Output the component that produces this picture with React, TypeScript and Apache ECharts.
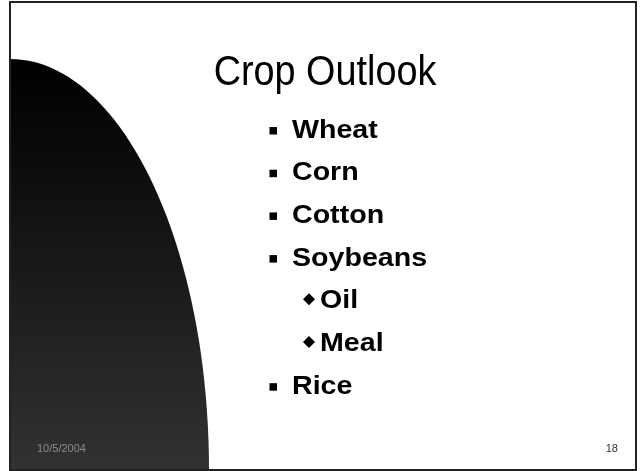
import React, { useEffect, useRef } from "react";
import * as echarts from "echarts";

const titleText = "Crop Outlook";
const bulletItems = ["Wheat", "Corn", "Cotton", "Soybeans", "Oil", "Meal", "Rice"];
const bulletLevels = [1, 1, 1, 1, 2, 2, 1];
const footerDate = "10/5/2004";
const pageNumber = "18";

export default function App() {
  const ref = useRef<HTMLDivElement>(null);
  useEffect(() => {
    if (!ref.current) return;
    const chart = echarts.init(ref.current, undefined, { renderer: "svg" });
    const firstBaseline = 137;
    const lineStep = 42.7;
    const elements: any[] = [];
    elements.push({
      type: "rect",
      shape: { x: 0, y: 0, width: 640, height: 471 },
      style: { fill: "#ffffff" },
    });
    elements.push({
      type: "ellipse",
      shape: { cx: 10, cy: 470, rx: 199, ry: 411 },
      style: {
        fill: {
          type: "linear",
          x: 0,
          y: 59,
          x2: 0,
          y2: 470,
          global: true,
          colorStops: [
            { offset: 0, color: "#000000" },
            { offset: 0.06, color: "#020202" },
            { offset: 1, color: "#323232" },
          ],
        },
      },
    });
    elements.push({
      type: "rect",
      shape: { x: 0, y: 0, width: 10, height: 471 },
      style: { fill: "#ffffff" },
    });
    elements.push({
      type: "rect",
      shape: { x: 10, y: 2, width: 626, height: 468 },
      style: { fill: "none", stroke: "#222222", lineWidth: 2 },
    });
    elements.push({
      type: "text",
      x: 325,
      y: 70,
      scaleX: 0.9,
      style: {
        text: titleText,
        x: 0,
        y: 0,
        fill: "#000000",
        font: '42px "Liberation Sans", Arial, sans-serif',
        textAlign: "center",
        textVerticalAlign: "middle",
      },
    });
    bulletItems.forEach((item, i) => {
      const base = firstBaseline + i * lineStep;
      const lvl = bulletLevels[i];
      const cy = base - 8.5;
      if (lvl === 1) {
        elements.push({
          type: "rect",
          shape: { x: 269.5, y: base - 10, width: 7.5, height: 7.5 },
          style: { fill: "#000000" },
        });
      } else {
        elements.push({
          type: "polygon",
          shape: {
            points: [
              [309, cy - 6],
              [315, cy],
              [309, cy + 6],
              [303, cy],
            ],
          },
          style: { fill: "#000000" },
        });
      }
      elements.push({
        type: "text",
        x: lvl === 1 ? 292 : 320,
        y: cy,
        scaleX: 1.1,
        style: {
          text: item,
          x: 0,
          y: 0,
          fill: "#000000",
          font: 'bold 26px "Liberation Sans", Arial, sans-serif',
          textAlign: "left",
          textVerticalAlign: "middle",
        },
      });
    });
    elements.push({
      type: "text",
      x: 37,
      y: 448,
      style: {
        text: footerDate,
        x: 0,
        y: 0,
        fill: "#8c8c8c",
        font: '11px "Liberation Sans", Arial, sans-serif',
        textAlign: "left",
        textVerticalAlign: "middle",
      },
    });
    elements.push({
      type: "text",
      x: 618,
      y: 448,
      style: {
        text: pageNumber,
        x: 0,
        y: 0,
        fill: "#333333",
        font: '11px "Liberation Sans", Arial, sans-serif',
        textAlign: "right",
        textVerticalAlign: "middle",
      },
    });
    chart.setOption({ animation: false, graphic: { elements } });
    return () => chart.dispose();
  }, []);
  return (
    <div
      ref={ref}
      style={{ position: "fixed", left: 0, top: 0, width: 640, height: 471 }}
    />
  );
}
